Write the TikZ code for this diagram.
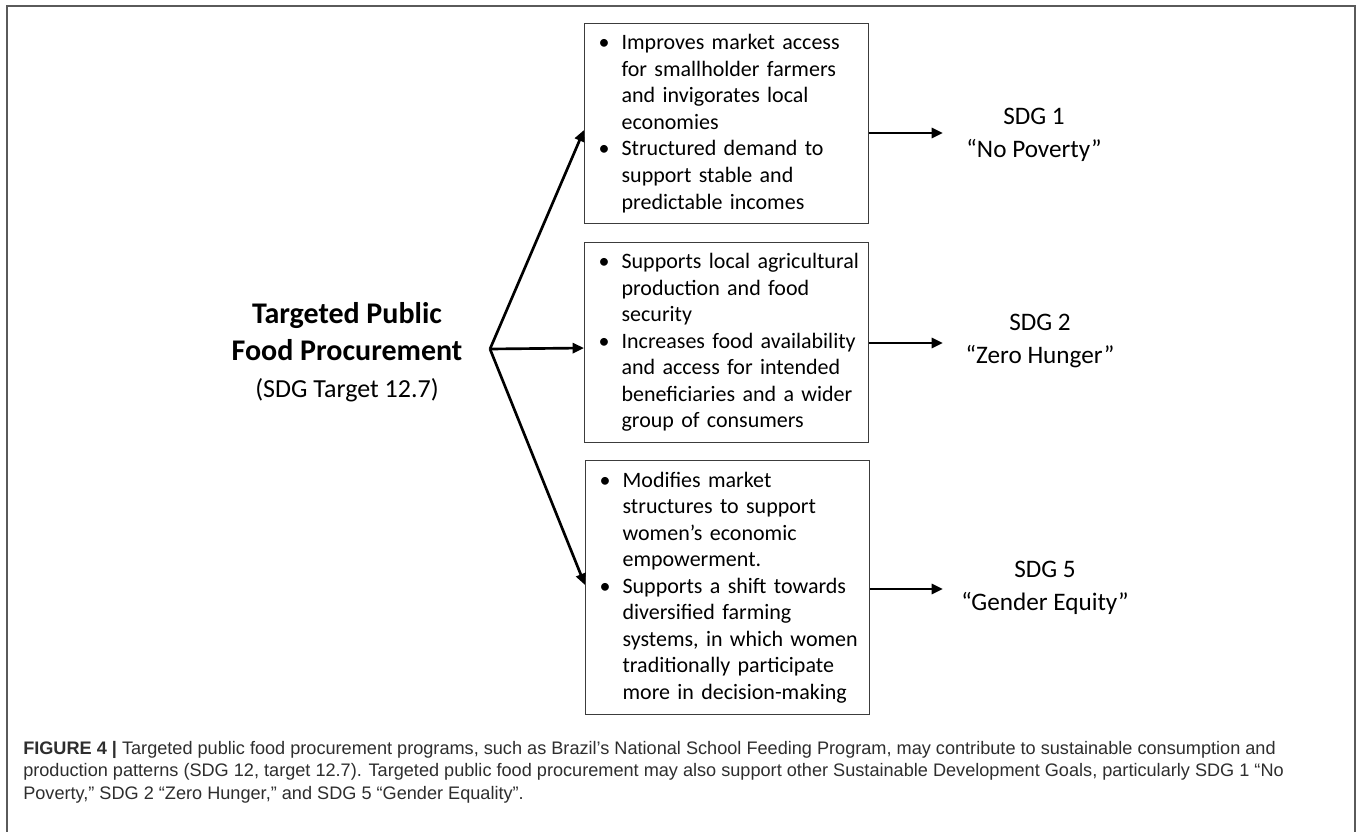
\documentclass[tikz,border=0pt]{standalone}
\usepackage{fontspec}
\setmainfont{Carlito}
\newfontfamily\capfont{Liberation Sans}
\usetikzlibrary{arrows.meta,calc}
\definecolor{framegray}{HTML}{5A5A5A}
\definecolor{boxgray}{HTML}{3C3C3C}
\definecolor{capgray}{HTML}{2E2E2E}
\newcommand\bulitem[1]{\makebox[17.25pt][l]{•}\mbox{#1}}
\newcommand\contline[1]{\hspace*{17.25pt}\mbox{#1}}
\begin{document}
\begin{tikzpicture}[x=0.75pt,y=-0.75pt,
  box/.style={draw=boxgray,line width=0.9pt,anchor=north west,inner xsep=10.5pt,inner ysep=0pt,
    text width=192pt,align=left,font=\fontsize{16.5}{19.9}\selectfont},
  arr/.style={line width=2pt,-{Triangle[length=8.5pt,width=7.5pt]}},
  sdg/.style={align=center,inner sep=0pt,font=\fontsize{18.9}{24.75}\selectfont}]
\useasboundingbox (0,0) rectangle (1358,831);
\fill[white] (0,0) rectangle (1358,831);
\draw[framegray,line width=1.1pt] (7,845) -- (7,6) -- (1355,6) -- (1355,845);

% title
\node[align=center,inner sep=0pt,font=\fontsize{22.5}{27.75}\selectfont] (title) at (347,352)
  {{\bfseries Targeted Public}\\{\bfseries Food Procurement}\\{\fontsize{19.5}{27.75}\selectfont (SDG Target 12.7)}};
\coordinate (hub) at (490,349);

% boxes
\node[box,minimum height=150pt] (b1) at (584,23)
  {\bulitem{Improves market access}\\
   \contline{for smallholder farmers}\\
   \contline{and invigorates local}\\
   \contline{economies}\\
   \bulitem{Structured demand to}\\
   \contline{support stable and}\\
   \contline{predictable incomes}};
\node[box,minimum height=150pt] (b2) at (584,242)
  {\bulitem{Supports local agricultural}\\
   \contline{production and food}\\
   \contline{security}\\
   \bulitem{Increases food availability}\\
   \contline{and access for intended}\\
   \contline{beneficiaries and a wider}\\
   \contline{group of consumers}};
\node[box,minimum height=190.5pt] (b3) at (585,460)
  {\bulitem{Modifies market}\\
   \contline{structures to support}\\
   \contline{women’s economic}\\
   \contline{empowerment.}\\
   \bulitem{Supports a shift towards}\\
   \contline{diversified farming}\\
   \contline{systems, in which women}\\
   \contline{traditionally participate}\\
   \contline{more in decision-making}};

% SDG labels
\node[sdg] (s1) at (1034,135) {SDG 1\\“No Poverty”};
\node[sdg] (s2) at (1040,341) {SDG 2\\“Zero Hunger”};
\node[sdg] (s5) at (1045,588) {SDG 5\\“Gender Equity”};
\coordinate (t1) at (943,133);
\coordinate (t2) at (943,343);
\coordinate (t5) at (943,589);

% arrows
\draw[arr] (hub) -- (b1.west |- 0,130);
\draw[arr] (hub) -- (b2.west |- 0,348);
\draw[arr] (hub) -- (b3.west |- 0,585);
\draw[arr] (b1.east |- t1) -- (t1);
\draw[arr] (b2.east |- t2) -- (t2);
\draw[arr] (b3.east |- t5) -- (t5);

% caption
\node[anchor=base west,inner sep=0pt,align=left,text=capgray,
  font=\capfont\fontsize{13.6}{16.6}\selectfont] (cap) at (23,799)
  {{\bfseries FIGURE 4 |} Targeted public food procurement programs, such as Brazil’s National School Feeding Program, may contribute to sustainable consumption and\\
   production patterns (SDG 12, target 12.7). Targeted public food procurement may also support other Sustainable Development Goals, particularly SDG 1 “No\\
   Poverty,” SDG 2 “Zero Hunger,” and SDG 5 “Gender Equality”.};
\end{tikzpicture}
\end{document}
